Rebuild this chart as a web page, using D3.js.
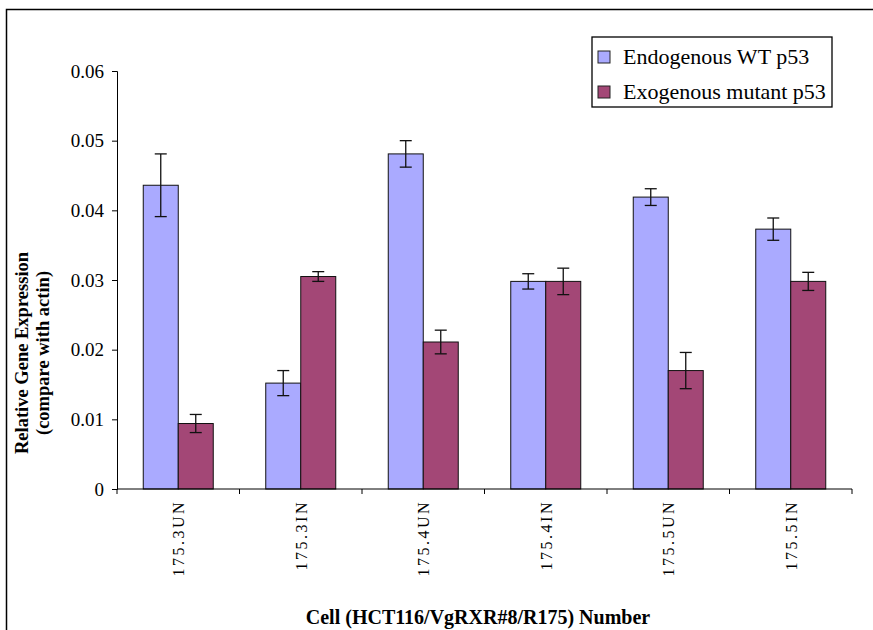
<!DOCTYPE html>
<html>
<head>
<meta charset="utf-8">
<script src="https://cdnjs.cloudflare.com/ajax/libs/d3/7.8.5/d3.min.js"></script>
<style>
  body { margin: 0; background: #fff; }
  svg text { font-family: "Liberation Serif", "Times New Roman", serif; }
</style>
</head>
<body>
<div id="container"></div>
<script>
// chart data
var cells = ["175.3UN", "175.3IN", "175.4UN", "175.4IN", "175.5UN", "175.5IN"];
var seriesNames = ["Endogenous WT p53", "Exogenous mutant p53"];
var wtValues = [0.0436, 0.0152, 0.0481, 0.0298, 0.0419, 0.0373];
var wtErrors = [0.0045, 0.0018, 0.0019, 0.0011, 0.0012, 0.0016];
var mutValues = [0.0094, 0.0305, 0.0211, 0.0298, 0.0170, 0.0298];
var mutErrors = [0.0013, 0.0007, 0.0017, 0.0019, 0.0026, 0.0013];
var yTicks = [0, 0.01, 0.02, 0.03, 0.04, 0.05, 0.06];
var colors = ["#aaaaff", "#a34776"];

var width = 873, height = 630;
var plotL = 117, plotR = 852, plotT = 71, plotB = 489;

document.addEventListener('DOMContentLoaded', function(){
  var svg = d3.select("#container").append("svg")
    .attr("width", width).attr("height", height);

  // outer frame, runs off the right and bottom edge like the original
  svg.append("path")
    .attr("d", "M6.5," + (height + 2) + "V9.5H" + (width + 2))
    .attr("fill", "none").attr("stroke", "#000").attr("stroke-width", 1.5);

  var x = d3.scaleBand().domain(cells).range([plotL, plotR]).paddingInner(0).paddingOuter(0);
  var y = d3.scaleLinear().domain([0, 0.06]).range([plotB, plotT]);
  var barW = x.bandwidth() / 3.5; // excel gap width 150%

  var rows = [];
  cells.forEach(function(c, i){
    rows.push({cell: c, s: 0, v: wtValues[i], e: wtErrors[i]});
    rows.push({cell: c, s: 1, v: mutValues[i], e: mutErrors[i]});
  });

  // bars
  svg.selectAll("rect.bar").data(rows).enter().append("rect")
    .attr("class", "bar")
    .attr("x", function(d){ return x(d.cell) + x.bandwidth() / 2 - barW + d.s * barW; })
    .attr("y", function(d){ return y(d.v); })
    .attr("width", barW)
    .attr("height", function(d){ return y(0) - y(d.v); })
    .attr("fill", function(d){ return colors[d.s]; })
    .attr("stroke", "#111").attr("stroke-width", 1);

  // error bars
  var err = svg.selectAll("g.err").data(rows).enter().append("g")
    .attr("class", "err")
    .attr("transform", function(d){
      return "translate(" + (x(d.cell) + x.bandwidth() / 2 - barW / 2 + d.s * barW) + ",0)";
    })
    .attr("stroke", "#111").attr("stroke-width", 1.3);
  err.append("line").attr("x1", 0).attr("x2", 0)
    .attr("y1", function(d){ return y(d.v + d.e); })
    .attr("y2", function(d){ return y(d.v - d.e); });
  err.append("line").attr("x1", -6).attr("x2", 6)
    .attr("y1", function(d){ return y(d.v + d.e); })
    .attr("y2", function(d){ return y(d.v + d.e); });
  err.append("line").attr("x1", -6).attr("x2", 6)
    .attr("y1", function(d){ return y(d.v - d.e); })
    .attr("y2", function(d){ return y(d.v - d.e); });

  // y axis
  var yAxis = svg.append("g")
    .attr("transform", "translate(" + plotL + ",0)")
    .call(d3.axisLeft(y).tickValues(yTicks).tickSize(5).tickPadding(8)
      .tickFormat(function(d){ return d === 0 ? "0" : d3.format(".2f")(d); }));
  yAxis.selectAll("text").attr("fill", "#000")
    .style("font-size", "19px")
    .style("font-family", "'Liberation Serif', serif");
  yAxis.selectAll("line, path").attr("stroke", "#000");

  // x axis, ticks between categories
  var xAxis = svg.append("g").attr("transform", "translate(0," + plotB + ")");
  xAxis.append("line").attr("x1", plotL).attr("x2", plotR).attr("stroke", "#000");
  xAxis.selectAll("line.tk").data(cells.concat(["end"])).enter().append("line")
    .attr("class", "tk")
    .attr("x1", function(d, i){ return i < cells.length ? x(d) : plotR; })
    .attr("x2", function(d, i){ return i < cells.length ? x(d) : plotR; })
    .attr("y1", 0).attr("y2", 5).attr("stroke", "#000");

  xAxis.selectAll("text.cat").data(cells).enter().append("text")
    .attr("class", "cat")
    .attr("transform", function(d){
      return "translate(" + (x(d) + x.bandwidth() / 2 + 6) + ",11) rotate(-90)";
    })
    .attr("text-anchor", "end")
    .attr("font-size", 16).attr("letter-spacing", 2.5)
    .text(function(d){ return d; });

  // axis titles
  svg.append("text")
    .attr("x", 478).attr("y", 624)
    .attr("text-anchor", "middle")
    .attr("font-size", 20).attr("font-weight", "bold")
    .text("Cell (HCT116/VgRXR#8/R175) Number");

  var yTitle = svg.append("text")
    .attr("transform", "translate(28,353) rotate(-90)")
    .attr("text-anchor", "middle")
    .attr("font-size", 18.5).attr("font-weight", "bold");
  yTitle.append("tspan").attr("x", 0).attr("dy", 0).text("Relative Gene Expression");
  yTitle.append("tspan").attr("x", 0).attr("dy", 21).text("(compare with actin)");

  // legend
  var legend = svg.append("g").attr("transform", "translate(592,37)");
  legend.append("rect").attr("width", 240).attr("height", 70)
    .attr("fill", "#fff").attr("stroke", "#000").attr("stroke-width", 1.3);
  var items = legend.selectAll("g.item").data(seriesNames).enter().append("g")
    .attr("class", "item")
    .attr("transform", function(d, i){ return "translate(0," + (i * 35) + ")"; });
  items.append("rect").attr("x", 6).attr("y", 14).attr("width", 12).attr("height", 12)
    .attr("fill", function(d, i){ return colors[i]; })
    .attr("stroke", "#222");
  items.append("text").attr("x", 31).attr("y", 27)
    .attr("font-size", 22)
    .text(function(d){ return d; });
});
</script>
</body>
</html>
